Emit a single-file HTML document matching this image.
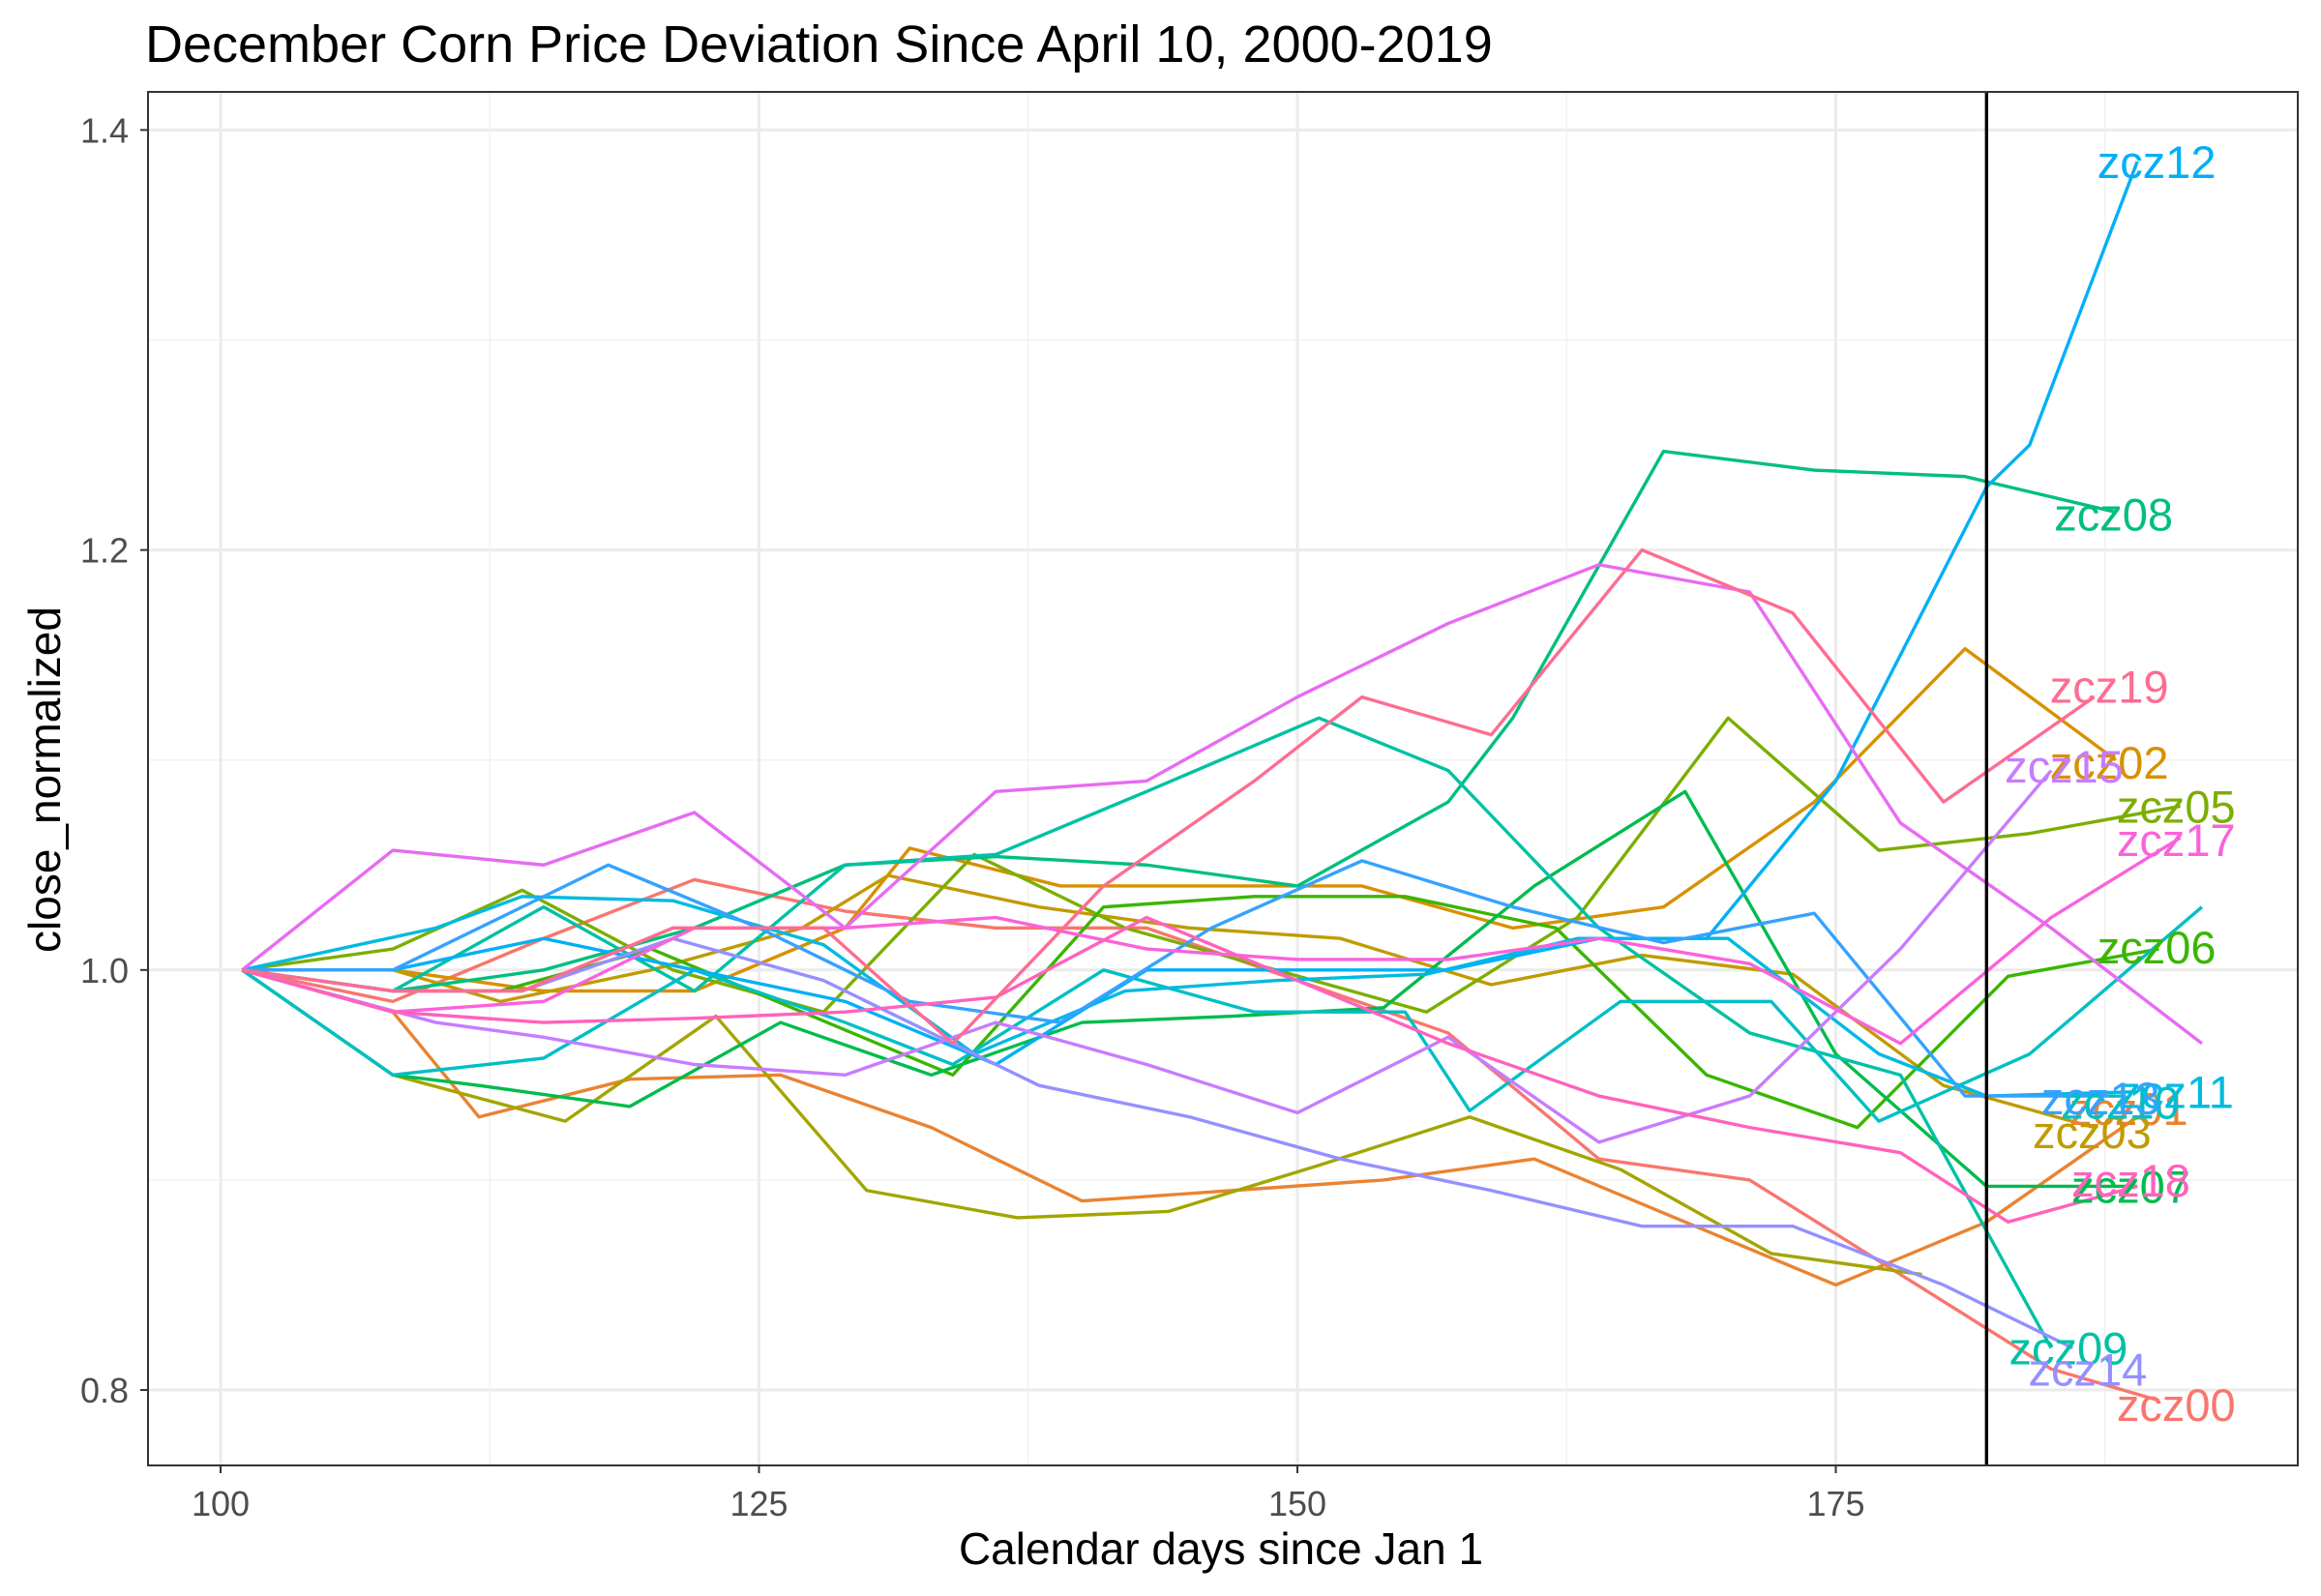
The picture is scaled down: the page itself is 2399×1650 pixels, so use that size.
<!DOCTYPE html>
<html><head><meta charset="utf-8"><style>
body{margin:0;background:#fff;}
svg{display:block;font-family:"Liberation Sans",sans-serif;}
</style></head><body>
<svg id="chart" width="2399" height="1650" xmlns="http://www.w3.org/2000/svg">
<rect width="2399" height="1650" fill="#fff"/>
<text x="150" y="64" font-size="54" fill="#000">December Corn Price Deviation Since April 10, 2000-2019</text>
<g id="grid"></g>
<g id="series"></g>
<g id="labels"></g>
<rect x="153" y="95" width="2222" height="1420" fill="none" stroke="#333" stroke-width="2"/>
<g id="axes"></g>
<text x="1262" y="1617" font-size="46" text-anchor="middle" fill="#000">Calendar days since Jan 1</text>
<text transform="translate(62,806) rotate(-90)" font-size="46" text-anchor="middle" fill="#000">close_normalized</text>
</svg>
<script>
const xTicks=[100,125,150,175];
const xMinor=[112.5,137.5,162.5,187.5];
const yTicks=[0.8,1.0,1.2,1.4];
const yTickLabels=["0.8","1.0","1.2","1.4"];
const yMinor=[0.9,1.1,1.3];
const vlineDay=182;
const seriesNames=["zcz00","zcz01","zcz02","zcz03","zcz04","zcz05","zcz06","zcz07","zcz08","zcz09","zcz10","zcz11","zcz12","zcz13","zcz14","zcz15","zcz16","zcz17","zcz18","zcz19"];
const seriesColors=["#F8766D","#EA8331","#D89000","#C09B00","#A3A500","#7CAE00","#39B600","#00BB4E","#00BF7D","#00C1A3","#00BFC4","#00BAE0","#00B0F6","#35A2FF","#9590FF","#C77CFF","#E76BF3","#FA62DB","#FF62BC","#FF6C91"];
const s00=[[101,1],[108,0.985],[115,1.015],[122,1.043],[129,1.028],[136,1.02],[143,1.02],[150,0.995],[157,0.97],[164,0.91],[171,0.9],[178,0.855],[185,0.81],[190,0.795]];
const s01=[[101,1],[108,0.98],[112,0.93],[119,0.948],[126,0.95],[133,0.925],[140,0.89],[147,0.895],[154,0.9],[161,0.91],[168,0.88],[175,0.85],[182,0.88],[189,0.93]];
const s02=[[101,1],[108,1.0],[115,0.99],[122,0.99],[129,1.02],[132,1.058],[139,1.04],[146,1.04],[153,1.04],[160,1.02],[167,1.03],[174,1.08],[181,1.153],[188,1.1]];
const s03=[[101,1],[108,1.0],[113,0.985],[120,1.0],[127,1.02],[131,1.045],[138,1.03],[145,1.02],[152,1.015],[159,0.993],[166,1.007],[173,0.998],[180,0.945],[187,0.925]];
const s04=[[101,1],[108,0.95],[116,0.928],[123,0.978],[130,0.895],[137,0.882],[144,0.885],[151,0.907],[158,0.93],[165,0.905],[172,0.865],[179,0.855]];
const s05=[[101,1],[108,1.01],[114,1.038],[121,1.0],[128,0.98],[135,1.055],[142,1.02],[149,1.0],[156,0.98],[163,1.025],[170,1.12],[177,1.057],[184,1.065],[191,1.078]];
const s06=[[101,1],[108,0.99],[113,0.99],[120,1.01],[127,0.98],[134,0.95],[141,1.03],[148,1.035],[155,1.035],[162,1.02],[169,0.95],[176,0.925],[183,0.997],[190,1.01]];
const s07=[[101,1],[108,0.95],[112,0.945],[119,0.935],[126,0.975],[133,0.95],[140,0.975],[147,0.978],[154,0.982],[161,1.04],[168,1.085],[175,0.96],[182,0.897],[189,0.897]];
const s08=[[101,1],[108,0.99],[115,1.0],[122,1.02],[129,1.05],[136,1.054],[143,1.05],[150,1.04],[157,1.08],[160,1.12],[167,1.247],[174,1.238],[181,1.235],[188,1.218]];
const s09=[[101,1],[108,0.99],[115,1.03],[122,0.99],[129,1.05],[136,1.055],[143,1.085],[151,1.12],[157,1.095],[164,1.02],[171,0.97],[178,0.95],[185,0.82]];
const s10=[[101,1],[108,0.95],[115,0.958],[122,1.0],[129,0.975],[134,0.955],[141,1.0],[148,0.98],[155,0.98],[158,0.933],[165,0.985],[172,0.985],[177,0.928],[184,0.96],[192,1.03]];
const s11=[[101,1],[110,1.02],[114,1.035],[121,1.033],[128,1.012],[135,0.96],[142,0.99],[149,0.995],[156,0.998],[163,1.015],[170,1.015],[177,0.96],[182,0.94],[189,0.942]];
const s12=[[101,1],[108,1.0],[115,1.015],[122,1.0],[129,0.985],[136,0.955],[143,1.0],[150,1.0],[157,1.0],[164,1.015],[169,1.015],[175,1.09],[182,1.23],[184,1.25],[189,1.385]];
const s13=[[101,1],[108,1.0],[118,1.05],[125,1.02],[132,0.985],[139,0.975],[146,1.02],[153,1.052],[160,1.03],[167,1.013],[174,1.027],[181,0.94],[188,0.94]];
const s14=[[101,1],[108,0.99],[114,0.99],[121,1.015],[128,0.995],[138,0.945],[145,0.93],[152,0.91],[159,0.895],[166,0.878],[173,0.878],[180,0.85],[186,0.82]];
const s15=[[101,1],[110,0.975],[115,0.968],[122,0.955],[129,0.95],[136,0.975],[143,0.955],[150,0.932],[157,0.968],[164,0.918],[171,0.94],[178,1.01],[185,1.095]];
const s16=[[101,1],[108,1.057],[115,1.05],[122,1.075],[129,1.02],[136,1.085],[143,1.09],[150,1.13],[157,1.165],[164,1.193],[171,1.18],[178,1.07],[185,1.02],[192,0.965]];
const s17=[[101,1],[108,0.98],[115,0.985],[122,1.02],[129,1.02],[136,1.025],[143,1.01],[150,1.005],[157,1.005],[164,1.015],[171,1.003],[178,0.965],[185,1.025],[191,1.063]];
const s18=[[101,1],[108,0.98],[115,0.975],[122,0.977],[129,0.98],[136,0.987],[143,1.025],[150,0.995],[157,0.965],[164,0.94],[171,0.925],[178,0.913],[183,0.88],[189,0.897]];
const s19=[[101,1],[108,0.99],[114,0.99],[121,1.02],[128,1.02],[134,0.965],[141,1.04],[148,1.09],[153,1.13],[159,1.112],[166,1.2],[173,1.17],[180,1.08],[187,1.13]];
const seriesData=[s00,s01,s02,s03,s04,s05,s06,s07,s08,s09,s10,s11,s12,s13,s14,s15,s16,s17,s18,s19];
const labelNames=["zcz00","zcz01","zcz02","zcz03","zcz05","zcz06","zcz07","zcz08","zcz09","zcz10","zcz11","zcz12","zcz13","zcz14","zcz15","zcz17","zcz18","zcz19"];
const labelDays=[190.8,188.6,187.7,186.9,190.8,189.9,188.7,187.9,185.8,188.2,190.8,189.9,187.3,186.7,185.6,190.8,188.7,187.7];
const labelValues=[0.793,0.934,1.099,0.923,1.078,1.011,0.897,1.217,0.82,0.937,0.942,1.385,0.939,0.81,1.097,1.062,0.9,1.135];

const NS="http://www.w3.org/2000/svg";
const L=153,R=2375,T=95,B=1515;
function xs(d){return 228+(d-100)*22.26;}
function ys(v){return 1437-(v-0.8)*2171;}
function mk(tag,attrs,parent){const e=document.createElementNS(NS,tag);for(const k in attrs)e.setAttribute(k,attrs[k]);parent.appendChild(e);return e;}
const grid=document.getElementById('grid'),ser=document.getElementById('series'),lab=document.getElementById('labels'),axes=document.getElementById('axes');
xMinor.forEach(d=>{const e=mk('line',{x1:xs(d),x2:xs(d),y1:T,y2:B,stroke:'#f2f2f2','stroke-width':1.5},grid);

});
yMinor.forEach(v=>{const e=mk('line',{x1:L,x2:R,y1:ys(v),y2:ys(v),stroke:'#f2f2f2','stroke-width':1.5},grid);

});
xTicks.forEach(d=>{const e=mk('line',{x1:xs(d),x2:xs(d),y1:T,y2:B,stroke:'#ebebeb','stroke-width':3},grid);


const t=mk('line',{x1:xs(d),x2:xs(d),y1:B,y2:B+8,stroke:'#333','stroke-width':2},axes);


const tx=mk('text',{x:xs(d),y:B+52,'font-size':36,'text-anchor':'middle',fill:'#4d4d4d'},axes);tx.textContent=String(d);

});
yTicks.forEach((v,i)=>{const e=mk('line',{x1:L,x2:R,y1:ys(v),y2:ys(v),stroke:'#ebebeb','stroke-width':3},grid);


const t=mk('line',{x1:L-8,x2:L,y1:ys(v),y2:ys(v),stroke:'#333','stroke-width':2},axes);


const tx=mk('text',{x:L-20,y:ys(v)+13,'font-size':36,'text-anchor':'end',fill:'#4d4d4d'},axes);tx.textContent=yTickLabels[i];

});
seriesData.forEach((pts,i)=>{const p=mk('polyline',{points:pts.map(q=>xs(q[0])+','+ys(q[1])).join(' '),fill:'none',stroke:seriesColors[i],'stroke-width':3.4,'stroke-linejoin':'round'},ser);

});
const vl=mk('line',{x1:xs(vlineDay),x2:xs(vlineDay),y1:T,y2:B,stroke:'#000','stroke-width':3.4},ser);


labelNames.forEach((n,i)=>{const c=seriesColors[seriesNames.indexOf(n)];
const t=mk('text',{x:xs(labelDays[i]),y:ys(labelValues[i])+17,'font-size':47,'text-anchor':'middle',fill:c},lab);t.textContent=n;

});
</script>
</body></html>
